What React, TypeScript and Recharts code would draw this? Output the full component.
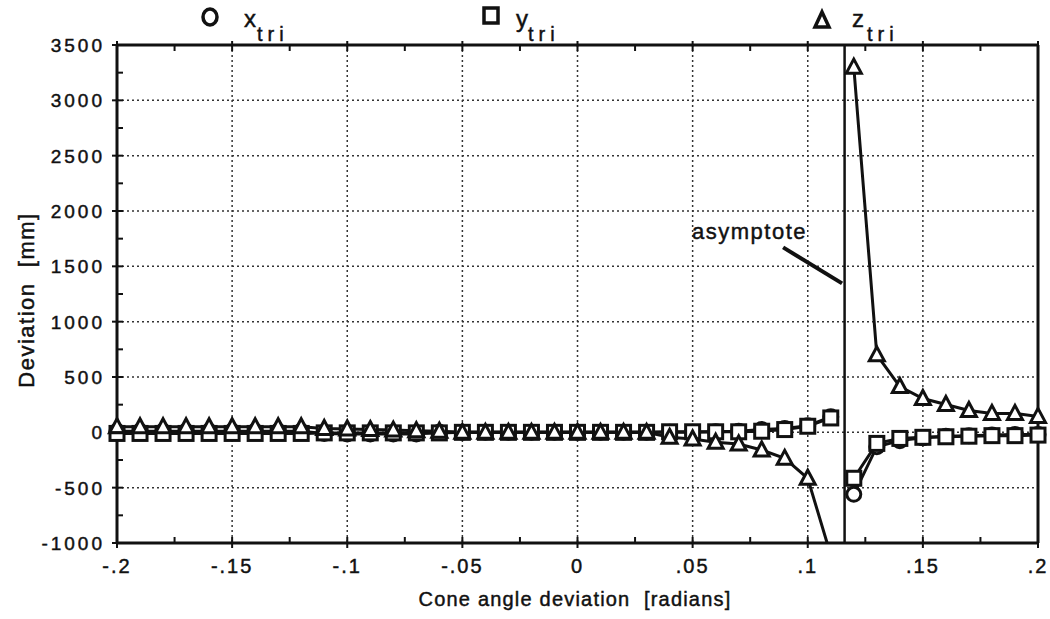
import React from "react";
import {
  CartesianGrid,
  Customized,
  Line,
  LineChart,
  ReferenceLine,
  XAxis,
  YAxis
} from "recharts";

// cone angle deviation [radians]; 0.116 is the asymptote (gap row)
const angles = [
  -0.2, -0.19, -0.18, -0.17, -0.16, -0.15, -0.14, -0.13, -0.12, -0.11, -0.1, -0.09, -0.08, -0.07, -0.06,
  -0.05, -0.04, -0.03, -0.02, -0.01, 0, 0.01, 0.02, 0.03, 0.04, 0.05, 0.06, 0.07, 0.08, 0.09, 0.1, 0.11,
  0.116,
  0.12, 0.13, 0.14, 0.15, 0.16, 0.17, 0.18, 0.19, 0.2
];

const xTri = [
  10, 10, 10, 10, 10, 10, 10, 10, 10, -10, -15, -15, -15, -15, 0,
  0, 0, 0, 0, 0, 0, 0, 0, 0, 0, 0, 5, 10, 25, 35, 60, 140,
  null,
  -560, -130, -75, -50, -35, -30, -25, -20, -20
];

const yTri = [
  -10, -10, -10, -10, -10, -10, -10, -10, -10, -5, -5, -5, -5, -5, -5,
  0, 0, 0, 0, 0, 0, 0, 0, 0, 5, 5, 5, 5, 10, 25, 55, 130,
  null,
  -415, -100, -55, -45, -40, -35, -30, -30, -25
];

const zTri = [
  50, 50, 50, 50, 50, 50, 50, 50, 50, 35, 30, 25, 20, 15, 10,
  0, 0, 0, 0, 0, 0, 0, 0, 0, -45, -60, -90, -105, -160, -235, -415, -1110,
  null,
  3300, 700, 414, 306, 252, 198, 171, 171, 144
];

const asymptote = 0.116;

const xTicks = [
  -0.2, -0.175, -0.15, -0.125, -0.1, -0.075, -0.05, -0.025, 0, 0.025, 0.05, 0.075, 0.1, 0.125, 0.15, 0.175, 0.2
];
const xMajor = [-0.2, -0.15, -0.1, -0.05, 0, 0.05, 0.1, 0.15, 0.2];
const xLabels = ["-.2", "-.15", "-.1", "-.05", "0", ".05", ".1", ".15", ".2"];

const yTicks = [
  -1000, -750, -500, -250, 0, 250, 500, 750, 1000, 1250, 1500, 1750, 2000, 2250, 2500, 2750, 3000, 3250, 3500
];
const yMajor = [-1000, -500, 0, 500, 1000, 1500, 2000, 2500, 3000, 3500];
const yLabels = ["-1000", "-500", "0", "500", "1000", "1500", "2000", "2500", "3000", "3500"];

const data = angles.map((a, i) => ({ a, x: xTri[i], y: yTri[i], z: zTri[i] }));

const font = "'Liberation Sans', Arial, sans-serif";
const ink = "#111";
// photocopied type looks a bit heavier than plain regular weight
const heavy = { stroke: ink, strokeWidth: 0.45 };

const majorIndex = (list: number[], v: number) => list.findIndex((m) => Math.abs(m - v) < 1e-9);

// tick props carry the axis-line position because tickSize and tickMargin are 0
function BottomTick(props: any) {
  const { x, y, payload } = props;
  const idx = majorIndex(xMajor, payload.value);
  return (
    <g>
      <line x1={x} x2={x} y1={y - 6} y2={idx >= 0 ? y + 5 : y} stroke={ink} strokeWidth={2} />
      {idx >= 0 && (
        <text x={x} y={y + 30} textAnchor="middle" fontFamily={font} fontSize={20} letterSpacing={2} fill={ink} {...heavy}>
          {xLabels[idx]}
        </text>
      )}
    </g>
  );
}

function TopTick(props: any) {
  const { x, y, payload } = props;
  const major = majorIndex(xMajor, payload.value) >= 0;
  return <line x1={x} x2={x} y1={major ? y - 4 : y} y2={y + 6} stroke={ink} strokeWidth={2} />;
}

function LeftTick(props: any) {
  const { x, y, payload } = props;
  const idx = majorIndex(yMajor, payload.value);
  return (
    <g>
      <line x1={idx >= 0 ? x - 5 : x} x2={x + 6} y1={y} y2={y} stroke={ink} strokeWidth={2} />
      {idx >= 0 && (
        <text x={x - 12} y={y + 7} textAnchor="end" fontFamily={font} fontSize={19} letterSpacing={3} fill={ink} {...heavy}>
          {yLabels[idx]}
        </text>
      )}
    </g>
  );
}

function RightTick(props: any) {
  const { x, y, payload } = props;
  const major = majorIndex(yMajor, payload.value) >= 0;
  return <line x1={x - 6} x2={major ? x + 4 : x} y1={y} y2={y} stroke={ink} strokeWidth={2} />;
}

function Circle(props: any) {
  const { cx, cy, key } = props;
  if (cx == null || cy == null) return <g key={key} />;
  return <circle key={key} cx={cx} cy={cy} r={7} fill="#fff" stroke={ink} strokeWidth={3} />;
}

function Square(props: any) {
  const { cx, cy, key } = props;
  if (cx == null || cy == null) return <g key={key} />;
  return <rect key={key} x={cx - 7} y={cy - 7} width={14} height={14} fill="#fff" stroke={ink} strokeWidth={3} />;
}

function Triangle(props: any) {
  const { cx, cy, key } = props;
  if (cx == null || cy == null) return <g key={key} />;
  return (
    <polygon
      key={key}
      points={`${cx},${cy - 8} ${cx + 7.5},${cy + 6} ${cx - 7.5},${cy + 6}`}
      fill="#fff"
      stroke={ink}
      strokeWidth={3}
    />
  );
}

function Decorations() {
  return (
    <g fontFamily={font} fill={ink}>
      {/* legend */}
      <ellipse cx={210} cy={17} rx={7} ry={8} fill="#fff" stroke={ink} strokeWidth={3.5} />
      <text x={244} y={27} fontSize={24} {...heavy}>x</text>
      <text x={257} y={41} fontSize={20} letterSpacing={5} {...heavy}>tri</text>

      <rect x={484} y={8} width={14} height={15} fill="#fff" stroke={ink} strokeWidth={3.5} />
      <text x={516} y={27} fontSize={24} {...heavy}>y</text>
      <text x={528} y={41} fontSize={20} letterSpacing={5} {...heavy}>tri</text>

      <polygon points="822,12 829,27 815,27" fill="#fff" stroke={ink} strokeWidth={3.5} />
      <text x={852} y={27} fontSize={24} {...heavy}>z</text>
      <text x={867} y={41} fontSize={20} letterSpacing={5} {...heavy}>tri</text>

      {/* annotation */}
      <text x={692} y={239} fontSize={22} letterSpacing={1.5} {...heavy}>asymptote</text>

      {/* axis titles */}
      <text x={575} y={606} fontSize={20} letterSpacing={1.2} textAnchor="middle" style={{ whiteSpace: "pre" }} {...heavy}>
        {"Cone angle deviation  [radians]"}
      </text>
      <text
        x={0}
        y={0}
        fontSize={22}
        letterSpacing={1.5}
        textAnchor="middle"
        transform="translate(34 300) rotate(-90)"
        style={{ whiteSpace: "pre" }}
        {...heavy}
      >
        {"Deviation  [mm]"}
      </text>
    </g>
  );
}

export default function App() {
  return (
    <div style={{ position: "absolute", left: 0, top: 0, width: 1050, height: 619, background: "#fff" }}>
      <LineChart
        width={1050}
        height={619}
        data={data}
        margin={{ top: 35, right: 2, bottom: 36, left: 57 }}
      >
        <CartesianGrid
          horizontalValues={yMajor}
          verticalValues={xMajor}
          stroke="#333"
          strokeWidth={1.5}
          strokeDasharray="2 3"
        />
        <XAxis
          dataKey="a"
          type="number"
          domain={[-0.2, 0.2]}
          ticks={xTicks}
          interval={0}
          height={40}
          tickSize={0}
          tickMargin={0}
          tickLine={false}
          axisLine={{ stroke: ink, strokeWidth: 3 }}
          tick={<BottomTick />}
        />
        <XAxis
          xAxisId="top"
          orientation="top"
          dataKey="a"
          type="number"
          domain={[-0.2, 0.2]}
          ticks={xTicks}
          interval={0}
          height={10}
          tickSize={0}
          tickMargin={0}
          tickLine={false}
          axisLine={{ stroke: ink, strokeWidth: 3 }}
          tick={<TopTick />}
        />
        <YAxis
          type="number"
          domain={[-1000, 3500]}
          allowDataOverflow
          ticks={yTicks}
          interval={0}
          width={60}
          tickSize={0}
          tickMargin={0}
          tickLine={false}
          axisLine={{ stroke: ink, strokeWidth: 3 }}
          tick={<LeftTick />}
        />
        <YAxis
          yAxisId="right"
          orientation="right"
          type="number"
          domain={[-1000, 3500]}
          ticks={yTicks}
          interval={0}
          width={10}
          tickSize={0}
          tickMargin={0}
          tickLine={false}
          axisLine={{ stroke: ink, strokeWidth: 3 }}
          tick={<RightTick />}
        />
        <ReferenceLine x={asymptote} stroke={ink} strokeWidth={2.5} />
        <ReferenceLine
          segment={[
            { x: 0.0893, y: 1671 },
            { x: 0.1149, y: 1346 }
          ]}
          stroke={ink}
          strokeWidth={4}
        />
        <Line dataKey="x" stroke={ink} strokeWidth={3} dot={Circle} activeDot={false} isAnimationActive={false} />
        <Line dataKey="y" stroke={ink} strokeWidth={3} dot={Square} activeDot={false} isAnimationActive={false} />
        <Line dataKey="z" stroke={ink} strokeWidth={3} dot={Triangle} activeDot={false} isAnimationActive={false} />
        <Customized component={<Decorations />} />
      </LineChart>
    </div>
  );
}
